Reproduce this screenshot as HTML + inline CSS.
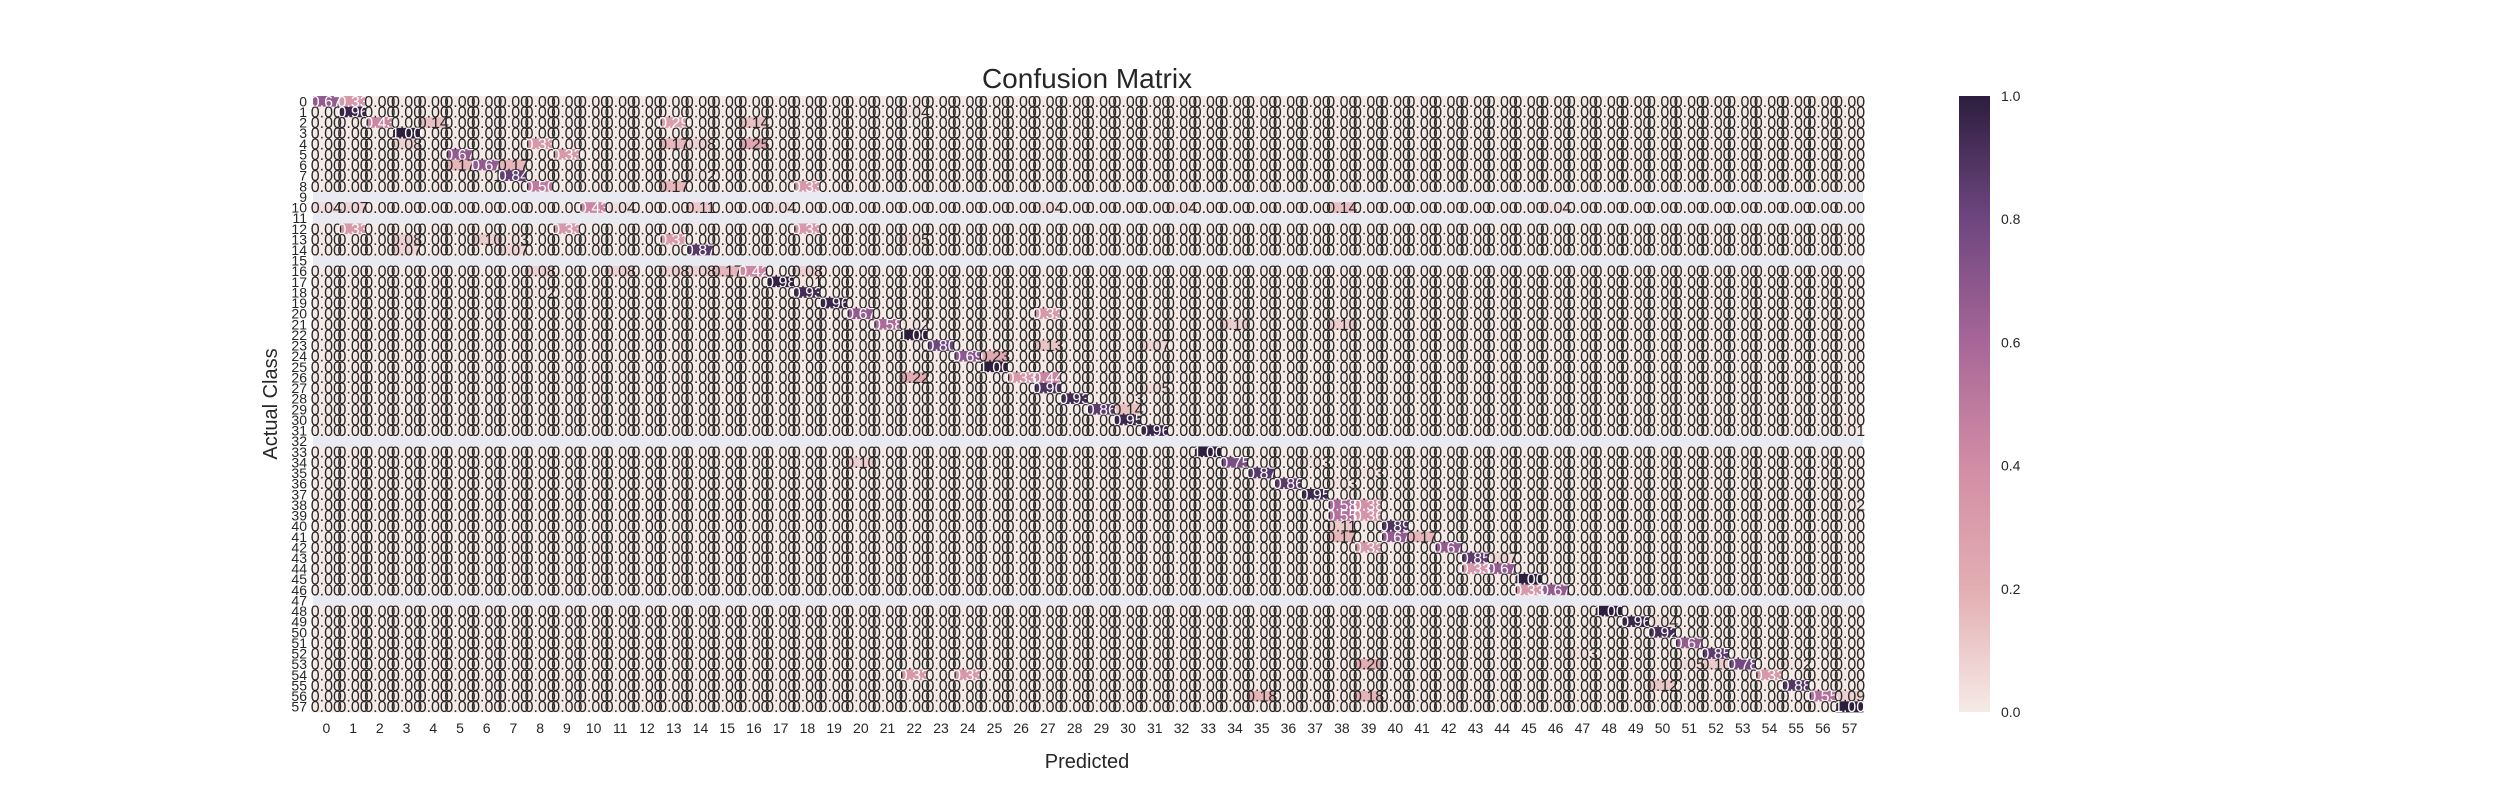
<!DOCTYPE html>
<html><head><meta charset="utf-8"><style>
html,body{margin:0;padding:0;background:#fff;}
svg text{font-family:"Liberation Sans",sans-serif;}
</style></head><body>
<svg id="chart" width="2500" height="800" xmlns="http://www.w3.org/2000/svg">
<defs><linearGradient id="cbg" x1="0" y1="1" x2="0" y2="0"></linearGradient></defs>
<text x="1087" y="88" font-size="28" text-anchor="middle" fill="#262626">Confusion Matrix</text>
<text x="1087" y="768" font-size="20" text-anchor="middle" fill="#262626">Predicted</text>
<text transform="translate(277,404) rotate(-90)" font-size="20" text-anchor="middle" fill="#262626">Actual Class</text>
<g id="cells"></g>
<g id="labels"></g>
<g id="xticks"></g>
<g id="yticks"></g>
<g id="cbar"></g>
</svg>
<script>
const N = 58;
const emptyRows = [9, 11, 15, 32, 47];
// sparse non-zero entries: [row, col, value]
const entries = [
[0,0,0.67],[0,1,0.33],
[1,1,0.96],[1,22,0.04],
[2,2,0.43],[2,4,0.14],[2,13,0.29],[2,16,0.14],
[3,3,1.00],
[4,3,0.08],[4,8,0.33],[4,13,0.17],[4,14,0.08],[4,16,0.25],
[5,5,0.67],[5,9,0.33],
[6,5,0.17],[6,6,0.67],[6,7,0.17],
[7,7,0.84],[7,14,0.02],[7,6,0.01],
[8,8,0.50],[8,13,0.17],[8,18,0.33],
[10,0,0.04],[10,1,0.07],[10,10,0.43],[10,11,0.04],[10,14,0.11],[10,17,0.04],[10,27,0.04],[10,32,0.04],[10,38,0.14],[10,46,0.04],
[12,1,0.33],[12,9,0.33],[12,18,0.33],
[13,3,0.08],[13,6,0.10],[13,7,0.03],[13,13,0.31],[13,22,0.05],
[14,3,0.07],[14,7,0.07],[14,14,0.87],
[16,8,0.08],[16,11,0.08],[16,13,0.08],[16,14,0.08],[16,15,0.17],[16,16,0.42],[16,18,0.08],
[17,17,0.98],[17,18,0.01],
[18,18,0.93],[18,8,0.02],
[19,19,0.96],
[20,20,0.67],[20,27,0.33],
[21,21,0.58],[21,22,0.02],[21,34,0.1],[21,38,0.1],
[22,22,1.00],
[23,23,0.80],[23,27,0.13],[23,31,0.07],
[24,24,0.69],[24,25,0.23],
[25,25,1.00],
[26,22,0.22],[26,26,0.33],[26,27,0.44],
[27,27,0.90],[27,31,0.05],
[28,28,0.93],[28,30,0.03],
[29,29,0.86],[29,30,0.14],
[30,30,0.95],
[31,31,0.96],[31,57,0.01],
[33,33,1.00],
[34,34,0.75],[34,20,0.1],[34,37,0.03],
[35,35,0.87],[35,39,0.03],
[36,36,0.86],[36,38,0.03],
[37,37,0.95],
[38,38,0.58],[38,39,0.38],[38,57,0.02],
[39,38,0.55],[39,39,0.36],
[40,38,0.11],[40,40,0.89],
[41,38,0.17],[41,40,0.67],[41,41,0.17],
[42,39,0.33],[42,42,0.67],
[43,43,0.85],[43,44,0.07],
[44,43,0.33],[44,44,0.67],
[45,45,1.00],
[46,45,0.33],[46,46,0.67],
[48,48,1.00],
[49,49,0.96],[49,50,0.04],
[50,50,0.92],
[51,51,0.67],
[52,52,0.85],[52,47,0.03],
[53,53,0.78],[53,52,0.10],[53,51,0.05],[53,55,0.02],[53,39,0.2],
[54,54,0.33],[54,22,0.33],[54,24,0.33],
[55,55,0.88],[55,50,0.12],
[56,56,0.55],[56,57,0.09],[56,35,0.18],[56,39,0.18],
[57,57,1.00]
];
const cbTicks = [0.0, 0.2, 0.4, 0.6, 0.8, 1.0];

const X0 = 313, X1 = 1863, Y0 = 96, Y1 = 712;
const cw = (X1 - X0) / N, ch = (Y1 - Y0) / N;
function xPos(j){ return X0 + j * cw; }
function yPos(i){ return Y0 + i * ch; }
const stops = [[0,[245,234,230]],[0.2,[227,174,178]],[0.4,[209,141,164]],[0.6,[167,102,152]],[0.8,[110,70,128]],[1,[45,30,62]]];
function color(v){
  for (let k=1;k<stops.length;k++){
    if (v<=stops[k][0]){
      const a=stops[k-1],b=stops[k],t=(v-a[0])/(b[0]-a[0]);
      const c=a[1].map((x,ii)=>Math.round(x+(b[1][ii]-x)*t));
      return 'rgb('+c.join(',')+')';
    }
  }
  return 'rgb(45,30,62)';
}
const NS='http://www.w3.org/2000/svg';
const M = [];
for (let i=0;i<N;i++){ M.push(new Array(N).fill(0)); }
entries.forEach(e=>{ M[e[0]][e[1]] = e[2]; });
const cells=document.getElementById('cells'), labels=document.getElementById('labels');
for (let i=0;i<N;i++){
  const empty = emptyRows.indexOf(i)>=0;
  if (empty){
    const r=document.createElementNS(NS,'rect');
    r.setAttribute('x',X0);r.setAttribute('y',yPos(i));r.setAttribute('width',X1-X0);r.setAttribute('height',ch+0.3);
    r.setAttribute('fill','#eaeaf2');
    
    
    cells.appendChild(r);
    continue;
  }
  for (let j=0;j<N;j++){
    const v=M[i][j];
    const r=document.createElementNS(NS,'rect');
    r.setAttribute('x',xPos(j));r.setAttribute('y',yPos(i));r.setAttribute('width',cw+0.4);r.setAttribute('height',ch+0.4);
    r.setAttribute('fill',color(v));
    
    
    cells.appendChild(r);
    const t=document.createElementNS(NS,'text');
    t.setAttribute('x',xPos(j)+cw/2);t.setAttribute('y',yPos(i)+ch/2+5.5);
    t.setAttribute('font-size','16');t.setAttribute('text-anchor','middle');
    t.setAttribute('fill', v>0.25 ? '#ffffff' : '#262626');
    
    
    t.textContent=v.toFixed(2);
    labels.appendChild(t);
  }
}
const xt=document.getElementById('xticks'), yt=document.getElementById('yticks');
for (let k=0;k<N;k++){
  const t=document.createElementNS(NS,'text');
  t.setAttribute('x',xPos(k)+cw/2);t.setAttribute('y',733);t.setAttribute('font-size','14');t.setAttribute('text-anchor','middle');t.setAttribute('fill','#262626');
  
  
  t.textContent=k;xt.appendChild(t);
  const u=document.createElementNS(NS,'text');
  u.setAttribute('x',307);u.setAttribute('y',yPos(k)+ch/2+5);u.setAttribute('font-size','14');u.setAttribute('text-anchor','end');u.setAttribute('fill','#262626');
  
  
  u.textContent=k;yt.appendChild(u);
}
// colorbar
const grad=document.getElementById('cbg');
for (let k=0;k<=20;k++){
  const s=document.createElementNS(NS,'stop');
  s.setAttribute('offset',(k/20));s.setAttribute('stop-color',color(k/20));grad.appendChild(s);
}
const cb=document.getElementById('cbar');
const CB0=96, CB1=712;
function cbY(v){ return CB1 - v*(CB1-CB0); }
const cr=document.createElementNS(NS,'rect');
cr.setAttribute('x',1959);cr.setAttribute('y',CB0);cr.setAttribute('width',31);cr.setAttribute('height',CB1-CB0);cr.setAttribute('fill','url(#cbg)');


cb.appendChild(cr);
cbTicks.forEach(v=>{
  const t=document.createElementNS(NS,'text');
  t.setAttribute('x',2001);t.setAttribute('y',cbY(v)+5);t.setAttribute('font-size','14');t.setAttribute('fill','#262626');
  
  
  t.textContent=v.toFixed(1);cb.appendChild(t);
});
</script>
</body></html>
